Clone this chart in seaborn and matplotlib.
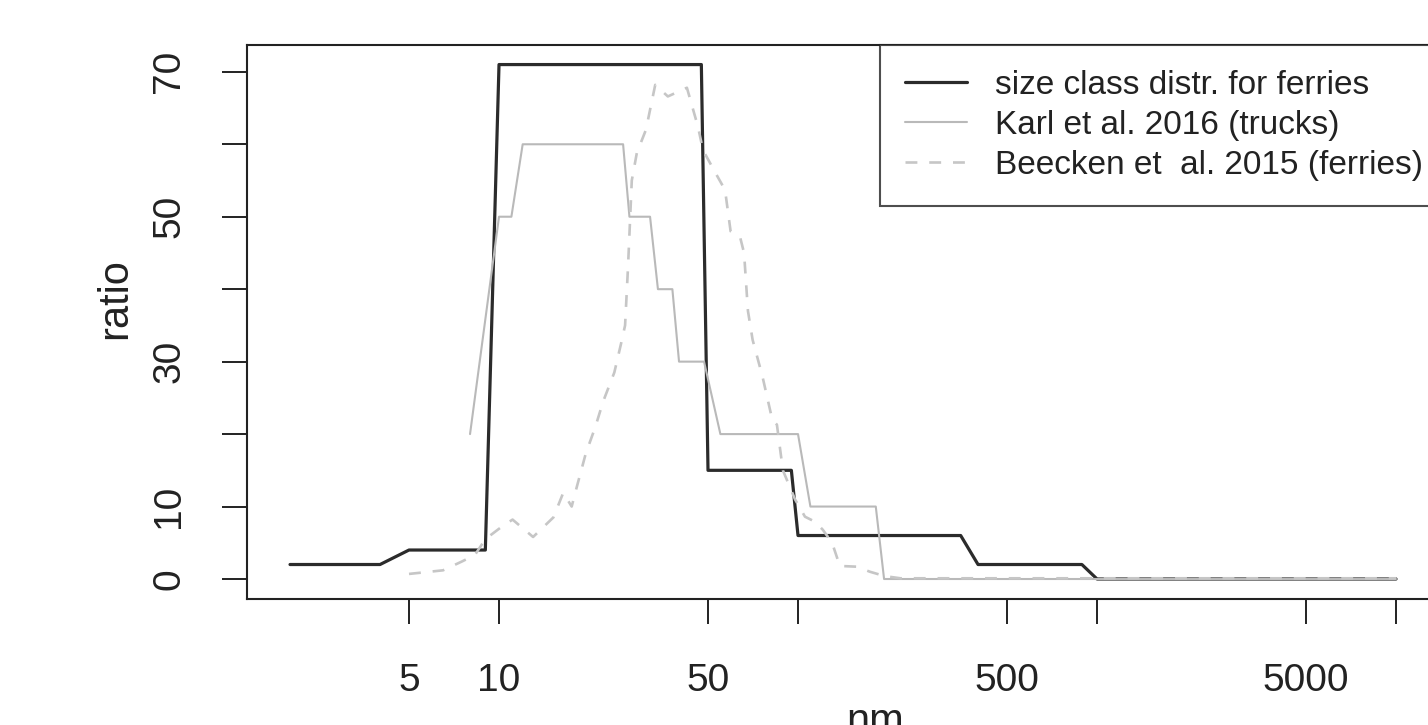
import matplotlib
matplotlib.use("Agg")
import matplotlib.pyplot as plt
import seaborn as sns

# size class distr. for ferries (step-like)
black_nm = [2, 4, 5, 9, 10, 47.5, 50, 95, 100, 350, 400, 890, 1000, 10000]
black_ratio = [2, 2, 4, 4, 71, 71, 15, 15, 6, 6, 2, 2, 0, 0]

# Karl et al. 2016 (trucks)
karl_nm = [8, 10, 11, 12, 26, 27.3, 32, 34, 38, 40, 48.5, 55, 100, 110, 182, 194, 10000]
karl_ratio = [20, 50, 50, 60, 60, 50, 50, 40, 40, 30, 30, 20, 20, 10, 10, 0, 0]

# Beecken et al. 2015 (ferries)
beecken_nm = [5, 6.5, 7.5, 8.3, 9.0, 10.2, 11.1, 13.0, 15.2, 16.4, 17.5, 18.2, 19.5,
              21.0, 22.3, 24.3, 25.6, 26.4, 27.0, 27.8, 28.9, 31.0, 33.3, 36.7, 42.5,
              46.3, 48.1, 52.7, 57.0, 59.5, 64.0, 66.0, 68.0, 70.5, 76.0, 82.0, 85.0,
              89.0, 97.7, 105.5, 114, 121, 130, 138, 157, 174, 195, 220, 10000]
beecken_ratio = [0.7, 1.2, 2.4, 3.3, 5.5, 7.2, 8.2, 5.8, 8.5, 11.9, 10.0, 12.7, 17.3,
                 21.0, 24.5, 28.5, 32.5, 35, 43, 55, 58.8, 62, 68.2, 66.6, 67.8,
                 62.4, 59.2, 56.2, 53.7, 48, 47.2, 45, 37, 33, 28, 22, 21.3,
                 15, 11, 8.6, 7.9, 6.8, 5, 1.8, 1.7, 1.0, 0.4, 0.1, 0.1]

x_ticks = [5, 10, 50, 100, 500, 1000, 5000, 10000]
x_ticklabels = ["5", "10", "50", "", "500", "", "5000", ""]
y_ticks = [0, 10, 20, 30, 40, 50, 60, 70]
y_ticklabels = ["0", "10", "", "30", "", "50", "", "70"]

sns.set_style("ticks")
plt.rcParams["font.family"] = ["Liberation Sans", "DejaVu Sans"]

W, H = 1428, 725
fig = plt.figure(figsize=(W / 100, H / 100), dpi=100)
# plot box runs a bit past the right edge, as in the cropped original
ax = fig.add_axes([247 / W, (H - 599) / H, (1440 - 247) / W, (599 - 45) / H])
ax.set_xscale("log")

sns.lineplot(x=black_nm, y=black_ratio, ax=ax, sort=False, estimator=None,
             color="#2b2b2b", linewidth=2.3, label="size class distr. for ferries")
sns.lineplot(x=karl_nm, y=karl_ratio, ax=ax, sort=False, estimator=None,
             color="#b9b9b9", linewidth=1.5, label="Karl et al. 2016 (trucks)")
sns.lineplot(x=beecken_nm, y=beecken_ratio, ax=ax, sort=False, estimator=None,
             color="#c6c6c6", linewidth=1.9, dashes=False,
             label="Beecken et  al. 2015 (ferries)")
ax.lines[2].set_dashes((4.5, 4.5))

ax.set_xlim(1.436, 14030)
ax.set_ylim(-2.76, 73.7)
ax.minorticks_off()
ax.set_xticks(x_ticks)
ax.set_xticklabels(x_ticklabels)
ax.set_yticks(y_ticks)
ax.set_yticklabels(y_ticklabels)

ax.tick_params(axis="both", direction="out", length=18, width=1.4,
               color="#222222", labelsize=28, labelcolor="#222222")
ax.tick_params(axis="x", pad=28)
ax.tick_params(axis="y", pad=25)
for lab in ax.get_yticklabels():
    lab.set_rotation(90)
    lab.set_va("center")

for sp in ax.spines.values():
    sp.set_color("#222222")
    sp.set_linewidth(1.5)
ax.set_xlabel("")
ax.set_ylabel("")

fig.text(115 / W, 1 - 299 / H, "ratio", rotation=90, ha="center", va="center",
         fontsize=30, color="#222222")
fig.text(875 / W, 1 - 733 / H, "nm", ha="center", va="baseline",
         fontsize=30, color="#222222")

leg = ax.legend(loc="upper left", bbox_to_anchor=((880 - 247) / 1193, 1.0),
                borderaxespad=0, fontsize=24, frameon=True, fancybox=False,
                handlelength=1.85, handletextpad=0.85, labelspacing=0.27,
                borderpad=0.75)
leg.get_frame().set_edgecolor("#222222")
leg.get_frame().set_linewidth(1.5)
for t in leg.get_texts():
    t.set_color("#222222")

fig.savefig("out.png", dpi=100)
